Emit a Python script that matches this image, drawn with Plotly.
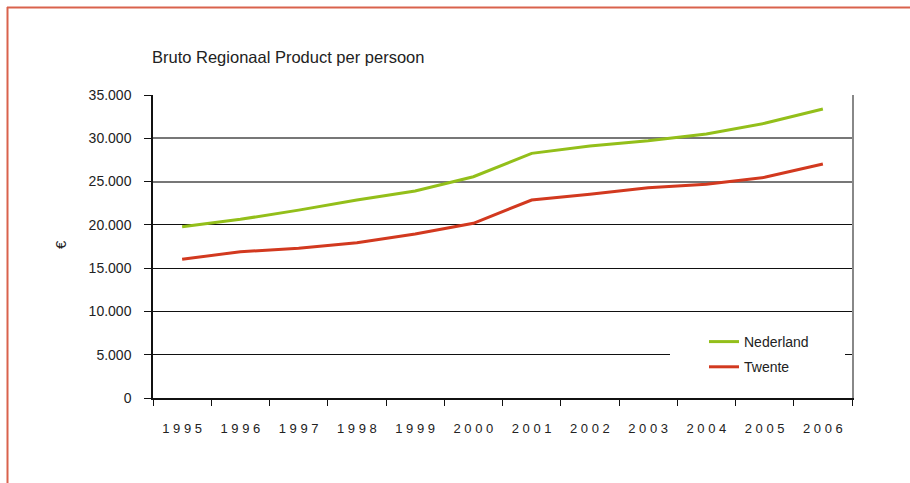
import plotly.graph_objects as go

years = ["1995", "1996", "1997", "1998", "1999", "2000", "2001", "2002", "2003", "2004", "2005", "2006"]
nederland = [19780, 20640, 21700, 22870, 23910, 25560, 28260, 29110, 29720, 30500, 31730, 33380]
twente = [16020, 16900, 17290, 17940, 18940, 20180, 22870, 23530, 24290, 24690, 25490, 27030]
y_ticks = [0, 5000, 10000, 15000, 20000, 25000, 30000, 35000]
title_text = "Bruto Regionaal Product per persoon"
y_title = "€"

FONT = "Liberation Sans, Arial, sans-serif"
GREEN = "#93bf1a"
RED = "#d2391f"
TXT = "#222222"

fig = go.Figure()
fig.add_trace(go.Scatter(x=years, y=nederland, mode="lines", name="Nederland",
                         line=dict(color=GREEN, width=3), legendgroup="a", xaxis="x", yaxis="y"))
fig.add_trace(go.Scatter(x=years, y=twente, mode="lines", name="Twente",
                         line=dict(color=RED, width=3), legendgroup="b", xaxis="x", yaxis="y2"))

W, H = 910, 483
L, R, T, B = 153, 852, 95, 398  # plot area in screen pixels

def px(x):
    return (x - L) / (R - L)

def py(y):
    return (B - y) / (B - T)

fig.update_layout(
    width=W, height=H,
    margin=dict(l=L, r=W - R, t=T, b=H - B),
    paper_bgcolor="white", plot_bgcolor="white",
    separators=",.",
    font=dict(family=FONT, size=13, color=TXT),
    title=dict(text=title_text, x=152 / W, xanchor="left", xref="container",
               y=1 - 57 / H, yanchor="middle", yref="container",
               font=dict(family=FONT, size=16.5, color=TXT)),
    showlegend=True,
    legend=dict(x=px(704), y=py(326), xanchor="left", yanchor="top",
                bgcolor="rgba(0,0,0,0)", font=dict(family=FONT, size=14, color=TXT),
                tracegroupgap=4, traceorder="grouped"),
    xaxis=dict(type="category", categoryorder="array", categoryarray=years,
               range=[-0.5, len(years) - 0.5],
               tickmode="array", tickvals=years, ticktext=[" ".join(y) for y in years],
               tickson="boundaries", ticks="outside", ticklen=6, tickcolor="#111",
               showline=True, linecolor="#111", linewidth=1.5, showgrid=False,
               tickfont=dict(family=FONT, size=13, color=TXT),
               ticklabelstandoff=18, zeroline=False),
    yaxis=dict(range=[0, 35000], tickmode="array", tickvals=y_ticks, tickformat=",d",
               ticks="outside", ticklen=7, tickcolor="#111", showline=True,
               linecolor="#111", linewidth=1.5, showgrid=False, zeroline=False,
               tickfont=dict(family=FONT, size=14, color=TXT),
               ticklabelstandoff=10,
               minor=dict(tickvals=[5000, 10000, 15000, 20000], showgrid=True,
                          gridcolor="#111111", gridwidth=1.2, ticks="")),
    yaxis2=dict(overlaying="y", matches="y", side="right", range=[0, 35000],
                tickmode="array", tickvals=[25000, 30000, 35000], showticklabels=False,
                ticks="", showgrid=True, gridcolor="#777777", gridwidth=1.5,
                showline=True, linecolor="#888888", linewidth=1.5, zeroline=False),
    annotations=[
        dict(text=y_title, xref="paper", yref="paper", x=px(60), y=py(245),
             xanchor="center", yanchor="middle", textangle=-90, showarrow=False,
             font=dict(family=FONT, size=15, color=TXT)),
    ],
    shapes=[
        dict(type="rect", xref="paper", yref="paper", x0=px(670), x1=px(845),
             y0=py(385), y1=py(320), fillcolor="white", line=dict(width=0), layer="above"),
        dict(type="line", xref="paper", yref="paper", x0=px(7), x1=px(915),
             y0=py(7.5), y1=py(7.5), line=dict(color="#d9624c", width=2)),
        dict(type="line", xref="paper", yref="paper", x0=px(7.5), x1=px(7.5),
             y0=py(7), y1=py(490), line=dict(color="#d9624c", width=2)),
    ],
)

fig.write_html(
    "out.html",
    config={"displayModeBar": False},
    post_script="document.body.style.margin='0';document.body.style.overflow='hidden';"
                "document.documentElement.style.overflow='hidden';",
)
